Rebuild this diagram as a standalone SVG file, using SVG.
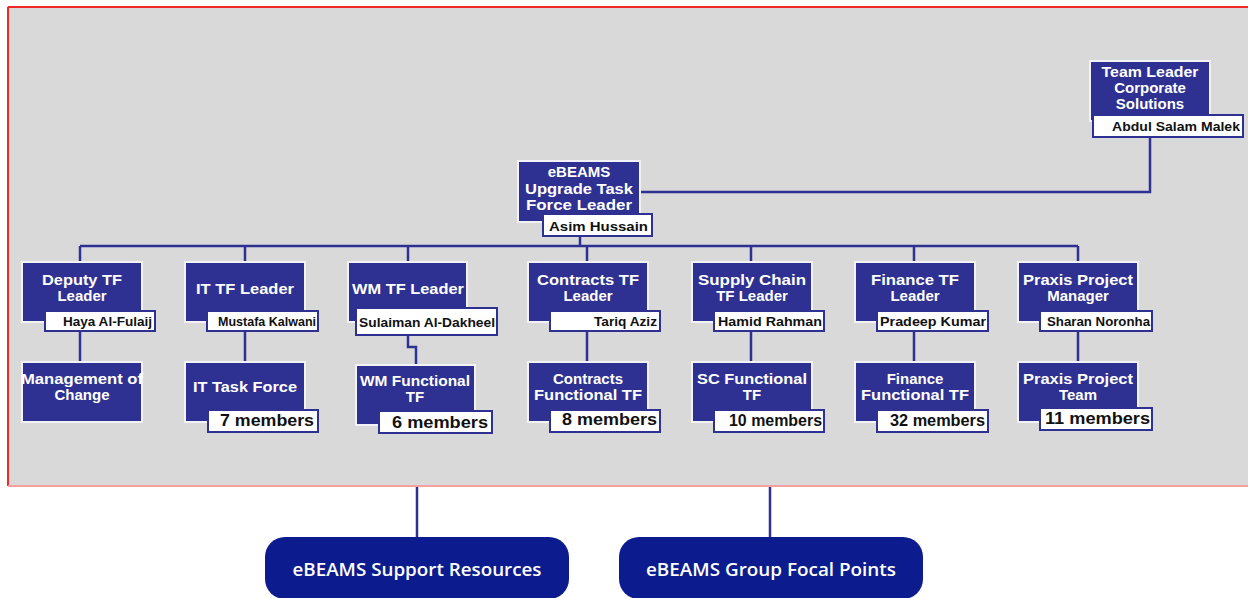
<svg xmlns="http://www.w3.org/2000/svg" width="1248" height="598" viewBox="0 0 1248 598">
<style>
.bx{fill:#2e3192;stroke:#f2f2f7;stroke-width:2}
.nm{fill:#ffffff;stroke:#2e3192;stroke-width:2}
.t{font-family:"Liberation Sans",Arial,sans-serif;font-weight:bold;fill:#ffffff;text-anchor:middle;font-size:15px}
.n{font-family:"Liberation Sans",Arial,sans-serif;font-weight:bold;fill:#111111;text-anchor:end;font-size:13px}
.m{font-family:"Liberation Sans",Arial,sans-serif;font-weight:bold;fill:#111111;text-anchor:end;font-size:16px}
.ln{fill:none;stroke:#2e3192;stroke-width:2.5}
.pill{fill:#0c1c8e}
.pt{font-family:"Open Sans","Noto Sans",sans-serif;font-weight:600;fill:#ffffff;text-anchor:middle;font-size:18px}
</style>
<rect x="0" y="0" width="1248" height="598" fill="#ffffff"/>
<rect x="8" y="7" width="1250" height="479" fill="#d9d9d9"/>
<line x1="8" y1="7" x2="1248" y2="7" stroke="#ee2a2a" stroke-width="2"/>
<line x1="8" y1="7" x2="8" y2="486" stroke="#ee2a2a" stroke-width="2"/>
<line x1="8" y1="486" x2="1248" y2="486" stroke="#f4a0a0" stroke-width="2"/>

<g id="connectors">
<polyline class="ln" points="1150,137 1150,192 632,192"/>
<line class="ln" x1="580" y1="236" x2="580" y2="246"/>
<line class="ln" x1="80" y1="246" x2="1078" y2="246"/>
<line class="ln" x1="80" y1="246" x2="80" y2="262"/>
<line class="ln" x1="245" y1="246" x2="245" y2="262"/>
<line class="ln" x1="408" y1="246" x2="408" y2="262"/>
<line class="ln" x1="587" y1="246" x2="587" y2="262"/>
<line class="ln" x1="751" y1="246" x2="751" y2="262"/>
<line class="ln" x1="914" y1="246" x2="914" y2="262"/>
<line class="ln" x1="1078" y1="246" x2="1078" y2="262"/>
<line class="ln" x1="80" y1="331" x2="80" y2="362"/>
<line class="ln" x1="245" y1="331" x2="245" y2="362"/>
<polyline class="ln" points="408,335 408,347 416,347 416,365"/>
<line class="ln" x1="587" y1="331" x2="587" y2="362"/>
<line class="ln" x1="751" y1="331" x2="751" y2="362"/>
<line class="ln" x1="914" y1="331" x2="914" y2="362"/>
<line class="ln" x1="1078" y1="331" x2="1078" y2="362"/>
<line class="ln" x1="417" y1="487" x2="417" y2="538"/>
<line class="ln" x1="770" y1="487" x2="770" y2="538"/>
</g>

<g id="team-leader">
<rect class="bx" x="1090" y="61" width="120" height="60"/>
<text class="t" x="1150" y="77" textLength="97" lengthAdjust="spacingAndGlyphs">Team Leader</text>
<text class="t" x="1150" y="93">Corporate</text>
<text class="t" x="1150" y="109">Solutions</text>
<rect class="nm" x="1093" y="115" width="150" height="22"/>
<text class="n" x="1240" y="131" textLength="128" lengthAdjust="spacingAndGlyphs">Abdul Salam Malek</text>
</g>

<g id="ebeams-leader">
<rect class="bx" x="518" y="161" width="122" height="61"/>
<text class="t" x="579" y="177">eBEAMS</text>
<text class="t" x="579" y="194" textLength="108" lengthAdjust="spacingAndGlyphs">Upgrade Task</text>
<text class="t" x="579" y="210" textLength="106" lengthAdjust="spacingAndGlyphs">Force Leader</text>
<rect class="nm" x="543" y="214" width="109" height="22"/>
<text class="n" x="648" y="231" font-size="14" textLength="99" lengthAdjust="spacingAndGlyphs">Asim Hussain</text>
</g>

<g id="deputy">
<rect class="bx" x="22" y="262" width="120" height="60"/>
<text class="t" x="82" y="285" textLength="80" lengthAdjust="spacingAndGlyphs">Deputy TF</text>
<text class="t" x="82" y="301">Leader</text>
<rect class="nm" x="45" y="311" width="110" height="20"/>
<text class="n" x="152" y="326" textLength="89" lengthAdjust="spacingAndGlyphs">Haya Al-Fulaij</text>
</g>
<g id="moc">
<rect class="bx" x="22" y="362" width="120" height="60"/>
<text class="t" x="82" y="384" textLength="122" lengthAdjust="spacingAndGlyphs">Management of</text>
<text class="t" x="82" y="400">Change</text>
</g>

<g id="it-leader">
<rect class="bx" x="185" y="262" width="120" height="60"/>
<text class="t" x="245" y="294" textLength="98" lengthAdjust="spacingAndGlyphs">IT TF Leader</text>
<rect class="nm" x="207" y="311" width="111" height="20"/>
<text class="n" x="316" y="326" textLength="98" lengthAdjust="spacingAndGlyphs">Mustafa Kalwani</text>
</g>
<g id="it-tf">
<rect class="bx" x="185" y="362" width="120" height="60"/>
<text class="t" x="245" y="392" textLength="104" lengthAdjust="spacingAndGlyphs">IT Task Force</text>
<rect class="nm" x="208" y="410" width="110" height="22"/>
<text class="m" x="314" y="426" textLength="94" lengthAdjust="spacingAndGlyphs">7 members</text>
</g>

<g id="wm-leader">
<rect class="bx" x="348" y="262" width="119" height="60"/>
<text class="t" x="408" y="294" textLength="112" lengthAdjust="spacingAndGlyphs">WM TF Leader</text>
<rect class="nm" x="356" y="308" width="141" height="27"/>
<text class="n" x="495" y="327" textLength="136" lengthAdjust="spacingAndGlyphs">Sulaiman Al-Dakheel</text>
</g>
<g id="wm-tf">
<rect class="bx" x="356" y="365" width="119" height="60"/>
<text class="t" x="415" y="386" textLength="110" lengthAdjust="spacingAndGlyphs">WM Functional</text>
<text class="t" x="415" y="402">TF</text>
<rect class="nm" x="379" y="411" width="113" height="22"/>
<text class="m" x="488" y="428" textLength="96" lengthAdjust="spacingAndGlyphs">6 members</text>
</g>

<g id="contracts-leader">
<rect class="bx" x="528" y="262" width="120" height="60"/>
<text class="t" x="588" y="285" textLength="102" lengthAdjust="spacingAndGlyphs">Contracts TF</text>
<text class="t" x="588" y="301">Leader</text>
<rect class="nm" x="550" y="311" width="110" height="20"/>
<text class="n" x="657" y="326" textLength="63" lengthAdjust="spacingAndGlyphs">Tariq Aziz</text>
</g>
<g id="contracts-tf">
<rect class="bx" x="528" y="362" width="120" height="60"/>
<text class="t" x="588" y="384">Contracts</text>
<text class="t" x="588" y="400" textLength="108" lengthAdjust="spacingAndGlyphs">Functional TF</text>
<rect class="nm" x="550" y="410" width="110" height="22"/>
<text class="m" x="657" y="425" textLength="95" lengthAdjust="spacingAndGlyphs">8 members</text>
</g>

<g id="sc-leader">
<rect class="bx" x="692" y="262" width="120" height="60"/>
<text class="t" x="752" y="285" textLength="108" lengthAdjust="spacingAndGlyphs">Supply Chain</text>
<text class="t" x="752" y="301">TF Leader</text>
<rect class="nm" x="714" y="311" width="110" height="20"/>
<text class="n" x="822" y="326" textLength="104" lengthAdjust="spacingAndGlyphs">Hamid Rahman</text>
</g>
<g id="sc-tf">
<rect class="bx" x="692" y="362" width="120" height="60"/>
<text class="t" x="752" y="384" textLength="110" lengthAdjust="spacingAndGlyphs">SC Functional</text>
<text class="t" x="752" y="400">TF</text>
<rect class="nm" x="714" y="410" width="110" height="22"/>
<text class="m" x="822" y="426" textLength="93" lengthAdjust="spacingAndGlyphs">10 members</text>
</g>

<g id="finance-leader">
<rect class="bx" x="855" y="262" width="120" height="60"/>
<text class="t" x="915" y="285" textLength="88" lengthAdjust="spacingAndGlyphs">Finance TF</text>
<text class="t" x="915" y="301">Leader</text>
<rect class="nm" x="877" y="311" width="111" height="20"/>
<text class="n" x="986" y="326" textLength="106" lengthAdjust="spacingAndGlyphs">Pradeep Kumar</text>
</g>
<g id="finance-tf">
<rect class="bx" x="855" y="362" width="120" height="60"/>
<text class="t" x="915" y="384">Finance</text>
<text class="t" x="915" y="400" textLength="108" lengthAdjust="spacingAndGlyphs">Functional TF</text>
<rect class="nm" x="877" y="410" width="111" height="22"/>
<text class="m" x="985" y="426" textLength="95" lengthAdjust="spacingAndGlyphs">32 members</text>
</g>

<g id="praxis-leader">
<rect class="bx" x="1018" y="262" width="120" height="60"/>
<text class="t" x="1078" y="285" textLength="110" lengthAdjust="spacingAndGlyphs">Praxis Project</text>
<text class="t" x="1078" y="301">Manager</text>
<rect class="nm" x="1040" y="311" width="112" height="20"/>
<text class="n" x="1150" y="326" textLength="103" lengthAdjust="spacingAndGlyphs">Sharan Noronha</text>
</g>
<g id="praxis-team">
<rect class="bx" x="1018" y="362" width="120" height="60"/>
<text class="t" x="1078" y="384" textLength="110" lengthAdjust="spacingAndGlyphs">Praxis Project</text>
<text class="t" x="1078" y="400">Team</text>
<rect class="nm" x="1040" y="408" width="112" height="22"/>
<text class="m" x="1150" y="424" textLength="105" lengthAdjust="spacingAndGlyphs">11 members</text>
</g>

<g id="support-resources">
<rect class="pill" x="265" y="537" width="304" height="62" rx="20"/>
<text class="pt" x="417" y="576" textLength="249" lengthAdjust="spacingAndGlyphs">eBEAMS Support Resources</text>
</g>
<g id="group-focal-points">
<rect class="pill" x="619" y="537" width="304" height="62" rx="20"/>
<text class="pt" x="771" y="576" textLength="250" lengthAdjust="spacingAndGlyphs">eBEAMS Group Focal Points</text>
</g>
</svg>
